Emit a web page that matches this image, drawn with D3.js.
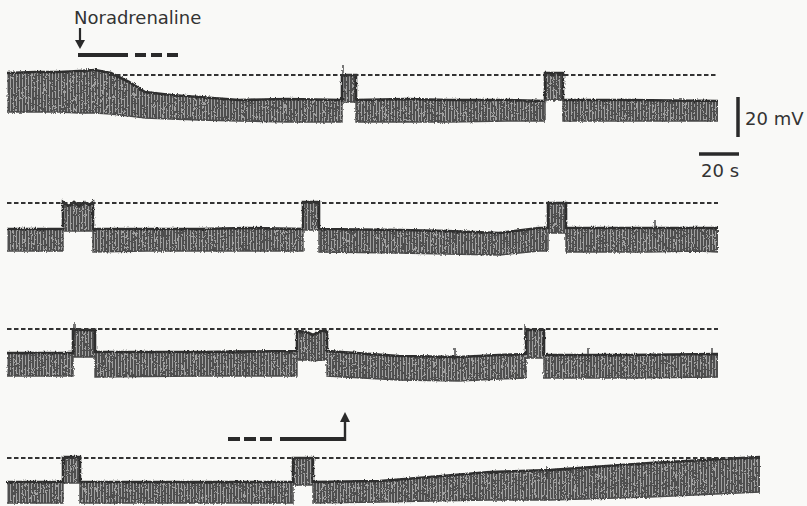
<!DOCTYPE html>
<html>
<head>
<meta charset="utf-8">
<script src="https://cdn.jsdelivr.net/npm/d3@7"></script>
<style>
  body { margin: 0; background: #f9f9f7; }
  svg { display: block; }
  text { font-family: 'DejaVu Sans', sans-serif; fill: #333; }
</style>
</head>
<body>
<svg></svg>
<script>
// time in s from start of each sweep, potential in mV relative to the dashed (control) level
// each point: [time, top of trace, bottom of trace]
let row1 = [
  [0, 1, -18.5], [14, 1.5, -18.5], [26, 1.5, -18.5], [36, 2, -19], [44, 2.5, -19], [52, 1, -19.5],
  [61, -3.5, -20.5], [69, -8.5, -21.5], [82, -10, -22], [96, -11, -22.5], [116, -12.5, -23],
  [140, -12, -23.5], [167.5, -12.5, -23.5],
  [167.5, 0, -13.5], [174.5, 0, -13.5],
  [174.5, -12.5, -23.5], [200, -12, -23.5], [221, -12.5, -23.5], [250, -12.5, -23], [269, -13, -23],
  [269, 1, -12.5], [278, 1, -12.5],
  [278, -12.5, -23], [310, -12.5, -23], [355.5, -13, -23]
]
let row2 = [
  [0, -13, -24], [28, -13, -24],
  [28, 0.5, -14], [31, -1.5, -14], [33.5, 0.5, -14], [36, -1.5, -14], [38.5, 0.5, -14], [41, -1, -14], [43, 0.5, -14],
  [43, -13, -24.5], [70, -13, -24], [96, -13, -24], [120, -12.5, -24], [148, -13, -24],
  [148, 0.5, -13.5], [156, 0.5, -13.5],
  [156, -13, -24.5], [196, -13.5, -25], [220, -14, -25.5], [246, -15, -26], [266, -12.5, -24], [270.5, -12.5, -24],
  [270.5, 0, -15], [279.5, 0, -15],
  [279.5, -12.5, -24.5], [320, -12.5, -24.5], [345, -12.5, -24], [355.5, -12.5, -24.5]
]
let row3 = [
  [0, -12, -23.5], [33, -12, -23.5],
  [33, -0.5, -14], [44, -0.5, -14],
  [44, -11.5, -24], [96, -11.5, -23.5], [145, -11, -23.5],
  [145, -1, -15.5], [150, -1.5, -15.5], [153, -3, -16], [157, -1, -15.5], [160, -1, -15.5],
  [160, -11, -23.5], [196, -13.5, -25.5], [226, -14, -26], [246, -13, -25], [259.5, -12.5, -24.5],
  [259.5, -0.5, -14.5], [268.5, -0.5, -14.5],
  [268.5, -13, -24.5], [310, -13, -24.5], [355.5, -12.5, -24]
]
let row4 = [
  [0, -12, -22.5], [28, -12, -22.5],
  [28, 0.5, -12.5], [36.5, 0.5, -12.5],
  [36.5, -12, -22.5], [96, -12, -22.5], [143, -12, -22.5],
  [143, 0, -13.5], [153, 0, -13.5],
  [153, -12, -22.5], [186.5, -11.5, -22], [211.5, -9.5, -21.5], [241.5, -7, -21], [271.5, -6, -21],
  [321.5, -2.5, -19.5], [376.5, 0.5, -17]
]
let rows = [row1, row2, row3, row4]

// brief upward transients: [time, peak mV]
let spikes = [
  [[168, 5]],
  [[324, -8.5]],
  [[33.5, 3], [259, 2], [224, -9.5], [290.5, -9.5], [352.5, -9.5]],
  [[270, -4.5]]
]

// dashed control level, [start, end] in s
let dashed = [[51, 355.5], [0, 355.5], [0, 355.5], [0, 376.5]]

// drug application markers (s)
let naStart = [36.5, 60.5, 85.5]     // arrow, end of solid bar, end of dashes (row 1)
let naStop = [110.5, 136.5, 169]     // start of dashes, start of solid bar, arrow (row 4)

let scaleMV = 20
let scaleS = 20

let width = 807
let height = 506
let rowY = [75, 203, 329, 458]

let svg = d3.select('svg').attr('width', width).attr('height', height)

let xScale = d3.scaleLinear().domain([0, 380]).range([7, 767])
let yScales = rowY.map((y) => d3.scaleLinear().domain([0, 20]).range([y, y - 40]))

let defs = svg.append('defs')
let pat = defs.append('pattern')
  .attr('id', 'stripes')
  .attr('patternUnits', 'userSpaceOnUse')
  .attr('width', 3).attr('height', 10)
pat.append('rect').attr('width', 3).attr('height', 10).attr('fill', '#4f4f4f')
pat.append('rect').attr('x', 1).attr('width', 1).attr('height', 10).attr('fill', '#a0a0a0')

let filt = defs.append('filter').attr('id', 'rough')
  .attr('x', '-2%').attr('y', '-20%').attr('width', '104%').attr('height', '140%')
filt.append('feTurbulence').attr('type', 'fractalNoise').attr('baseFrequency', '0.9 0.4')
  .attr('numOctaves', 2).attr('seed', 4).attr('result', 'noise')
filt.append('feDisplacementMap').attr('in', 'SourceGraphic').attr('in2', 'noise')
  .attr('scale', 3).attr('xChannelSelector', 'R').attr('yChannelSelector', 'G')

rows.forEach((data, i) => {
  let y = yScales[i]
  let g = svg.append('g').attr('filter', 'url(#rough)')

  let area = d3.area().x((d) => xScale(d[0])).y0((d) => y(d[2])).y1((d) => y(d[1]))
  g.append('path').datum(data).attr('d', area).attr('fill', 'url(#stripes)')

  let top = d3.line().x((d) => xScale(d[0])).y((d) => y(d[1]))
  g.append('path').datum(data).attr('d', top)
    .attr('fill', 'none').attr('stroke', '#2e2e2e').attr('stroke-width', 2.6)

  let bottom = d3.line().x((d) => xScale(d[0])).y((d) => y(d[2]))
  g.append('path').datum(data).attr('d', bottom)
    .attr('fill', 'none').attr('stroke', '#4a4a4a').attr('stroke-width', 1.4)

  g.selectAll('.spike')
    .data(spikes[i])
    .enter()
    .append('line')
    .attr('class', 'spike')
    .attr('x1', (d) => xScale(d[0])).attr('x2', (d) => xScale(d[0]))
    .attr('y1', (d) => y(d[1])).attr('y2', (d) => y(d[1] - 6))
    .attr('stroke', '#333').attr('stroke-width', 1.3)

  svg.append('line')
    .attr('x1', xScale(dashed[i][0])).attr('x2', xScale(dashed[i][1]))
    .attr('y1', y(0)).attr('y2', y(0))
    .attr('stroke', '#333').attr('stroke-width', 2.2)
    .attr('stroke-dasharray', '4.5,2.5')
})

// Noradrenaline on
svg.append('text').attr('x', 74).attr('y', 24).attr('font-size', 18).text('Noradrenaline')
svg.append('line')
  .attr('x1', xScale(naStart[0])).attr('x2', xScale(naStart[0]))
  .attr('y1', 28).attr('y2', 42)
  .attr('stroke', '#2a2a2a').attr('stroke-width', 2.2)
svg.append('path')
  .attr('d', d3.line()([[xScale(naStart[0]) - 5, 40], [xScale(naStart[0]) + 5, 40], [xScale(naStart[0]), 49]]))
  .attr('fill', '#2a2a2a')
svg.append('line')
  .attr('x1', xScale(naStart[0]) - 2).attr('x2', xScale(naStart[1]))
  .attr('y1', 55).attr('y2', 55)
  .attr('stroke', '#2a2a2a').attr('stroke-width', 4)
svg.append('line')
  .attr('x1', xScale(naStart[1]) + 7).attr('x2', xScale(naStart[2]))
  .attr('y1', 55).attr('y2', 55)
  .attr('stroke', '#2a2a2a').attr('stroke-width', 4)
  .attr('stroke-dasharray', '11,5')

// Noradrenaline off
svg.append('line')
  .attr('x1', xScale(naStop[0])).attr('x2', xScale(naStop[1]) - 8)
  .attr('y1', 439).attr('y2', 439)
  .attr('stroke', '#2a2a2a').attr('stroke-width', 4)
  .attr('stroke-dasharray', '12,4')
svg.append('line')
  .attr('x1', xScale(naStop[1])).attr('x2', xScale(naStop[2]) + 1)
  .attr('y1', 439).attr('y2', 439)
  .attr('stroke', '#2a2a2a').attr('stroke-width', 4)
svg.append('line')
  .attr('x1', xScale(naStop[2])).attr('x2', xScale(naStop[2]))
  .attr('y1', 441).attr('y2', 420)
  .attr('stroke', '#2a2a2a').attr('stroke-width', 2.4)
svg.append('path')
  .attr('d', d3.line()([[xScale(naStop[2]) - 5, 422], [xScale(naStop[2]) + 5, 422], [xScale(naStop[2]), 412]]))
  .attr('fill', '#2a2a2a')

// calibration bars
let yBar = yScales[0]
let barX = 738
svg.append('line')
  .attr('x1', barX).attr('x2', barX)
  .attr('y1', 137).attr('y2', 137 - (yBar(0) - yBar(scaleMV)))
  .attr('stroke', '#2a2a2a').attr('stroke-width', 3.5)
svg.append('text').attr('x', 745).attr('y', 125).attr('font-size', 18).text(scaleMV + ' mV')

svg.append('line')
  .attr('x1', barX + 1 - (xScale(scaleS) - xScale(0))).attr('x2', barX + 1)
  .attr('y1', 154).attr('y2', 154)
  .attr('stroke', '#2a2a2a').attr('stroke-width', 3.5)
svg.append('text').attr('x', 701).attr('y', 177).attr('font-size', 18).text(scaleS + ' s')
</script>
</body>
</html>
